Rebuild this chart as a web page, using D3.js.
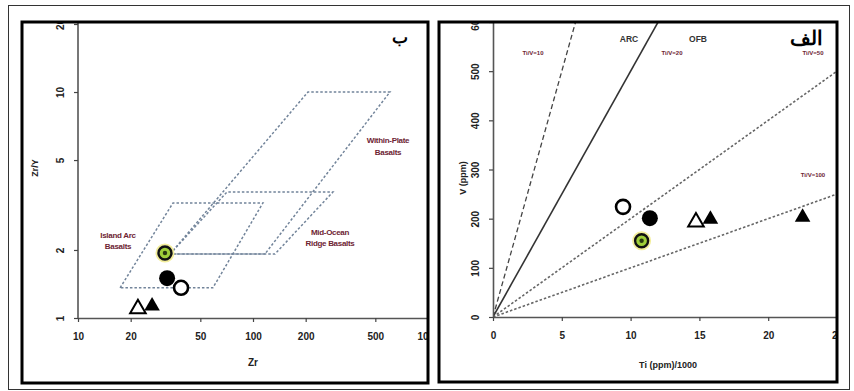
<!DOCTYPE html>
<html>
<head>
<meta charset="utf-8">
<script src="https://cdn.jsdelivr.net/npm/d3@7"></script>
<style>
  body { margin: 0; background: #fff; }
  svg { display: block; }
  text { font-family: "Liberation Sans", Arial, sans-serif; }
</style>
</head>
<body>
<svg id="chart" width="854" height="391"></svg>
<script>
// ---- Zr/Y vs Zr discrimination diagram ----
const zrTicks = [10, 20, 50, 100, 200, 500, 1000];
const zryTicks = [1, 2, 5, 10, 20];
// tectonic fields (vertices as [Zr, Zr/Y])
const fieldIslandArc = [[17.4, 1.36], [34.9, 3.23], [114, 3.23], [59, 1.36]];
const fieldMidOcean = [[33.6, 1.92], [71, 3.61], [286, 3.61], [133.6, 1.92]];
const fieldWithinPlate = [[33.6, 1.92], [206, 10], [606, 10], [117, 1.92]];
// samples
const zrSymbols = ["circleGreen", "circleFilled", "circleOpen", "triOpen", "triFilled"];
const zrValues = [31.4, 32.3, 38.8, 22.0, 26.5];
const zryValues = [1.94, 1.50, 1.36, 1.10, 1.13];

// ---- V vs Ti/1000 diagram ----
const tiTicks = [0, 5, 10, 15, 20, 25];
const vTicks = [0, 100, 200, 300, 400, 500, 600];
const tiVRatios = [10, 20, 50, 100];
const tiSymbols = ["circleOpen", "circleFilled", "circleGreen", "triOpen", "triFilled", "triFilled"];
const tiValues = [9.45, 11.4, 10.8, 14.75, 15.8, 22.5];
const vValues = [224, 201, 155, 193, 199, 203];

const svg = d3.select("#chart");
const maroon = "#6e2433";

// outer frame
svg.append("rect").attr("x", 8.5).attr("y", 5.5).attr("width", 841).attr("height", 384)
  .attr("fill", "#fff").attr("stroke", "#333").attr("stroke-width", 1);

// panel clip regions
const defs = svg.append("defs");
defs.append("clipPath").attr("id", "panelL").append("rect")
  .attr("x", 22).attr("y", 22).attr("width", 406).attr("height", 361);
defs.append("clipPath").attr("id", "panelR").append("rect")
  .attr("x", 439).attr("y", 22).attr("width", 398).attr("height", 360);

function drawSymbol(g, kind, x, y) {
  if (kind === "circleFilled") {
    g.append("circle").attr("cx", x).attr("cy", y).attr("r", 8).attr("fill", "#000");
  } else if (kind === "circleOpen") {
    g.append("circle").attr("cx", x).attr("cy", y).attr("r", 7)
      .attr("fill", "#fff").attr("stroke", "#000").attr("stroke-width", 2.6);
  } else if (kind === "circleGreen") {
    g.append("circle").attr("cx", x).attr("cy", y).attr("r", 8.5)
      .attr("fill", "none").attr("stroke", "#f3ee9a").attr("stroke-width", 2);
    g.append("circle").attr("cx", x).attr("cy", y).attr("r", 6.5)
      .attr("fill", "#9fcf3a").attr("stroke", "#111").attr("stroke-width", 2.4);
    g.append("circle").attr("cx", x).attr("cy", y).attr("r", 2.2).attr("fill", "#2a3a10");
  } else {
    const p = d3.symbol().type(d3.symbolTriangle).size(105)();
    const t = g.append("path").attr("d", p).attr("transform", `translate(${x},${y})`);
    if (kind === "triFilled") t.attr("fill", "#000");
    else t.attr("fill", "#fff").attr("stroke", "#000").attr("stroke-width", 2);
  }
}

function styleAxis(ax) {
  ax.select(".domain").attr("stroke", "#555").attr("stroke-width", 1.6);
  ax.selectAll(".tick line").attr("stroke", "#444").attr("stroke-width", 1.2);
  ax.selectAll(".tick text").attr("fill", "#222").attr("font-size", 10).attr("font-weight", "bold");
}

function rotateYLabels(ax) {
  ax.selectAll(".tick text")
    .attr("x", 0).attr("y", 0).attr("dy", 0)
    .attr("text-anchor", "middle")
    .attr("transform", "translate(-14,0) rotate(-90)");
}

// ================= left panel =================
const L = { left: 78, right: 428, top: 22, bottom: 318 };
const xL = d3.scaleLog().domain([10, 1000]).range([L.left, L.right]);
const yL = d3.scaleLog().domain([1, 20]).range([L.bottom, 24]);
const gL = svg.append("g").attr("clip-path", "url(#panelL)");

const fieldLine = d3.line().x(d => xL(d[0])).y(d => yL(d[1])).curve(d3.curveLinearClosed);
[fieldIslandArc, fieldMidOcean, fieldWithinPlate].forEach(f => {
  gL.append("path").attr("d", fieldLine(f)).attr("fill", "none")
    .attr("stroke", "#72849a").attr("stroke-width", 1.5).attr("stroke-dasharray", "2.5,2");
});

const axLx = gL.append("g").attr("transform", `translate(0,${L.bottom})`)
  .call(d3.axisBottom(xL).tickValues(zrTicks).tickFormat(d3.format("d")).tickSize(4).tickSizeOuter(0));
axLx.selectAll(".tick text").attr("y", 15);
styleAxis(axLx);

const axLy = gL.append("g").attr("transform", `translate(${L.left},0)`)
  .call(d3.axisLeft(yL).tickValues(zryTicks).tickFormat(d3.format("d")).tickSize(4).tickSizeOuter(0));
axLy.select(".domain").attr("d", `M0,${L.bottom}V${L.top}`);
rotateYLabels(axLy);
styleAxis(axLy);

gL.append("text").attr("x", (L.left + L.right) / 2).attr("y", 366).attr("text-anchor", "middle")
  .attr("font-size", 10).attr("font-weight", "bold").attr("fill", "#222").text("Zr");
gL.append("text").attr("transform", "translate(38,168) rotate(-90)").attr("text-anchor", "middle")
  .attr("font-size", 9).attr("font-weight", "bold").attr("fill", "#222").text("Zr/Y");

const fieldLabels = [
  { x: 388, y: 143, t: "Within-Plate" }, { x: 388, y: 155, t: "Basalts" },
  { x: 330, y: 235, t: "Mid-Ocean" }, { x: 330, y: 246, t: "Ridge Basalts" },
  { x: 118, y: 238, t: "Island Arc" }, { x: 118, y: 249, t: "Basalts" }
];
fieldLabels.forEach(d => gL.append("text").attr("x", d.x).attr("y", d.y).attr("text-anchor", "middle")
  .attr("font-size", 8).attr("font-weight", "bold").attr("fill", maroon).attr("letter-spacing", -0.3).text(d.t));

gL.append("text").attr("x", 400).attr("y", 43).attr("text-anchor", "middle")
  .attr("font-family", "DejaVu Sans").attr("font-size", 17).attr("font-weight", "bold").attr("fill", "#000").text("ب");

zrValues.forEach((z, i) => drawSymbol(gL, zrSymbols[i], xL(z), yL(zryValues[i])));

// ================= right panel =================
const R = { left: 493, right: 837, top: 22, bottom: 317 };
const xR = d3.scaleLinear().domain([0, 25]).range([R.left, R.right]);
const yR = d3.scaleLinear().domain([0, 600]).range([R.bottom, R.top]);
const gR = svg.append("g").attr("clip-path", "url(#panelR)");

defs.append("clipPath").attr("id", "plotR").append("rect")
  .attr("x", R.left).attr("y", R.top).attr("width", R.right - R.left).attr("height", R.bottom - R.top);

const ratioStyles = {
  10: { dash: "5,3", color: "#444", w: 1.3 },
  20: { dash: null, color: "#333", w: 1.6 },
  50: { dash: "2.5,2", color: "#666", w: 1.6 },
  100: { dash: "2.5,2", color: "#666", w: 1.6 }
};
const gLines = gR.append("g").attr("clip-path", "url(#plotR)");
tiVRatios.forEach(r => {
  const s = ratioStyles[r];
  const tiEnd = 25, vEnd = tiEnd * 1000 / r;
  gLines.append("line").attr("x1", xR(0)).attr("y1", yR(0)).attr("x2", xR(tiEnd)).attr("y2", yR(vEnd))
    .attr("stroke", s.color).attr("stroke-width", s.w).attr("stroke-dasharray", s.dash);
});

const axRx = gR.append("g").attr("transform", `translate(0,${R.bottom})`)
  .call(d3.axisBottom(xR).tickValues(tiTicks).tickFormat(d3.format("d")).tickSize(4).tickSizeOuter(0));
axRx.selectAll(".tick text").attr("y", 15);
styleAxis(axRx);

const axRy = gR.append("g").attr("transform", `translate(${R.left},0)`)
  .call(d3.axisLeft(yR).tickValues(vTicks).tickFormat(d3.format("d")).tickSize(4).tickSizeOuter(0));
rotateYLabels(axRy);
styleAxis(axRy);

gR.append("text").attr("x", 668).attr("y", 368).attr("text-anchor", "middle")
  .attr("font-size", 9).attr("font-weight", "bold").attr("fill", "#222").text("Ti (ppm)/1000");
gR.append("text").attr("transform", "translate(466,178) rotate(-90)").attr("text-anchor", "middle")
  .attr("font-size", 9).attr("font-weight", "bold").attr("fill", "#222").text("V (ppm)");

const ratioLabels = [
  { x: 533, y: 55, t: "Ti/V=10" }, { x: 672, y: 55, t: "Ti/V=20" },
  { x: 813, y: 55, t: "Ti/V=50" }, { x: 813, y: 177, t: "Ti/V=100" }
];
ratioLabels.forEach(d => gR.append("text").attr("x", d.x).attr("y", d.y).attr("text-anchor", "middle")
  .attr("font-size", 6).attr("font-weight", "bold").attr("fill", maroon).text(d.t));
gR.append("text").attr("x", 629).attr("y", 42).attr("text-anchor", "middle")
  .attr("font-size", 8.5).attr("font-weight", "bold").attr("fill", "#333").text("ARC");
gR.append("text").attr("x", 698).attr("y", 42).attr("text-anchor", "middle")
  .attr("font-size", 8.5).attr("font-weight", "bold").attr("fill", "#333").text("OFB");
gR.append("text").attr("x", 806).attr("y", 45).attr("text-anchor", "middle")
  .attr("font-family", "DejaVu Sans").attr("font-size", 20).attr("font-weight", "bold").attr("fill", "#000").text("الف");

tiValues.forEach((t, i) => drawSymbol(gR, tiSymbols[i], xR(t), yR(vValues[i])));

// panel frames
svg.append("rect").attr("x", 22).attr("y", 22).attr("width", 406).attr("height", 361)
  .attr("fill", "none").attr("stroke", "#000").attr("stroke-width", 3);
svg.append("rect").attr("x", 439).attr("y", 22).attr("width", 398).attr("height", 360)
  .attr("fill", "none").attr("stroke", "#000").attr("stroke-width", 3);
</script>
</body>
</html>
